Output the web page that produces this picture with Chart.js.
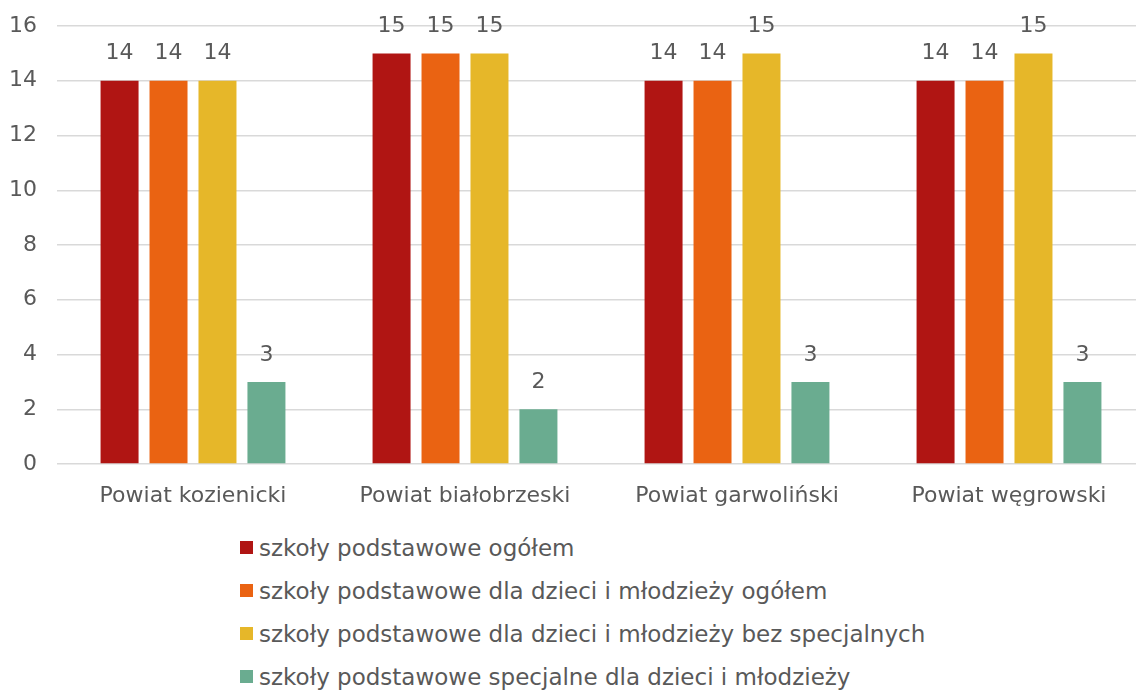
<!DOCTYPE html>
<html>
<head>
<meta charset="utf-8">
<script src="https://cdn.jsdelivr.net/npm/chart.js@4/dist/chart.umd.min.js"></script>
<style>
  html, body { margin: 0; padding: 0; background: #fff; overflow: hidden; width: 1136px; height: 693px; }
  #wrap { position: relative; width: 1150px; height: 515px; }
  #legend { position: absolute; left: 240px; top: 526px; font-family: "DejaVu Sans", sans-serif; font-size: 23px; color: #595959; }
  .li { height: 43px; display: flex; align-items: center; white-space: nowrap; }
  .sw { width: 13px; height: 13px; margin-right: 6px; display: inline-block; flex: none; }
</style>
</head>
<body>
<div id="wrap"><canvas id="c" width="1150" height="515"></canvas></div>
<div id="legend"></div>
<script>
const categories = ["Powiat kozienicki", "Powiat białobrzeski", "Powiat garwoliński", "Powiat węgrowski"];
const seriesNames = [
  "szkoły podstawowe ogółem",
  "szkoły podstawowe dla dzieci i młodzieży ogółem",
  "szkoły podstawowe dla dzieci i młodzieży bez specjalnych",
  "szkoły podstawowe specjalne dla dzieci i młodzieży"
];
const ogolem = [14, 15, 14, 14];
const dlaDzieciOgolem = [14, 15, 14, 14];
const bezSpecjalnych = [14, 15, 15, 15];
const specjalne = [3, 2, 3, 3];
const colors = ["#B01513", "#EA6312", "#E6B729", "#6AAC90"];
const yTicks = [0, 2, 4, 6, 8, 10, 12, 14, 16];

const FONT = '"DejaVu Sans", sans-serif';
const TXT = '#595959';
const FS = 22;

const valueLabels = {
  id: 'valueLabels',
  afterDatasetsDraw(chart) {
    const ctx = chart.ctx;
    ctx.save();
    ctx.font = FS + 'px ' + FONT;
    ctx.fillStyle = TXT;
    ctx.textAlign = 'center';
    ctx.textBaseline = 'middle';
    chart.data.datasets.forEach((ds, i) => {
      const meta = chart.getDatasetMeta(i);
      meta.data.forEach((bar, j) => {
        ctx.fillText(String(ds.data[j]), bar.x, bar.y - 27);
      });
    });
    ctx.restore();
  }
};

const seriesData = [ogolem, dlaDzieciOgolem, bezSpecjalnych, specjalne];

new Chart(document.getElementById('c'), {
  type: 'bar',
  data: {
    labels: categories,
    datasets: seriesNames.map((n, i) => ({
      label: n,
      data: seriesData[i],
      backgroundColor: colors[i],
      borderWidth: 0,
      barPercentage: 0.776,
      categoryPercentage: 0.72
    }))
  },
  options: {
    responsive: false,
    animation: false,
    devicePixelRatio: 1,
    layout: { padding: { top: 26, right: 5, left: 0, bottom: 0 } },
    plugins: { legend: { display: false }, tooltip: { enabled: false } },
    scales: {
      x: {
        grid: { display: false, drawTicks: false },
        border: { display: false },
        ticks: { color: TXT, font: { family: FONT, size: FS }, padding: 19, maxRotation: 0 },
        afterFit(s) { s.height = 51; s.paddingLeft = 0; s.paddingRight = 0; }
      },
      y: {
        min: 0, max: 16,
        afterBuildTicks(s) { s.ticks = yTicks.map(v => ({ value: v })); },
        grid: { color: '#D9D9D9', lineWidth: 1.5, drawTicks: false },
        border: { display: false },
        ticks: { color: TXT, font: { family: FONT, size: FS }, padding: 20 },
        afterFit(s) { s.width = 57; s.paddingTop = 0; s.paddingBottom = 0; }
      }
    }
  },
  plugins: [valueLabels]
});

const lg = document.getElementById('legend');
seriesNames.forEach((n, i) => {
  const d = document.createElement('div');
  d.className = 'li';
  const sw = document.createElement('span');
  sw.className = 'sw';
  sw.style.background = colors[i];
  d.appendChild(sw);
  d.appendChild(document.createTextNode(n));
  lg.appendChild(d);
});
</script>
</body>
</html>
